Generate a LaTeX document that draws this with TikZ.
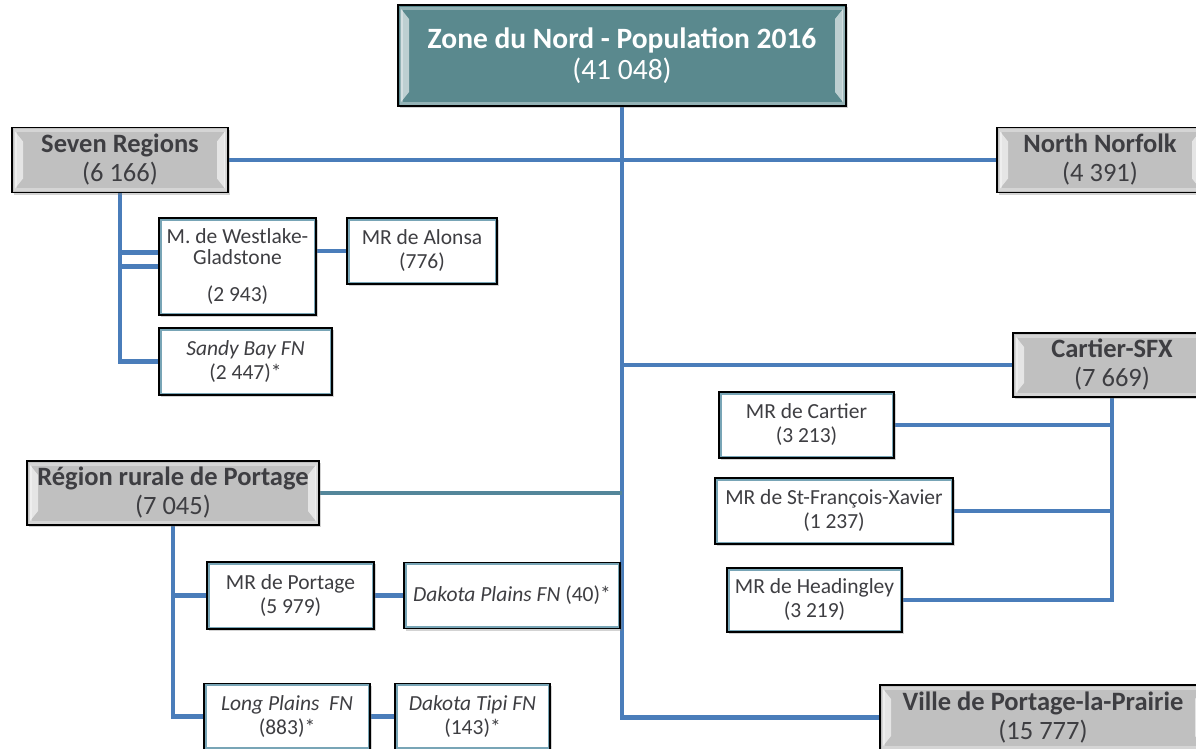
\documentclass[tikz,border=0pt]{standalone}
\usepackage{fontspec}
\setmainfont{Carlito}
\usepackage{tikz}
\usetikzlibrary{shadows,backgrounds}

\definecolor{topteal}{RGB}{90,137,142}
\definecolor{boxgray}{RGB}{192,192,192}
\definecolor{txtgray}{RGB}{62,62,66}
\definecolor{linkblue}{RGB}{74,125,186}
\definecolor{linkteal}{RGB}{84,134,154}
\definecolor{rimteal}{RGB}{120,165,182}

\begin{document}
\begin{tikzpicture}[x=1pt,y=-1pt,
  bevel/.style={path picture={
    \fill[white,opacity=.6] ([shift={(3pt,-4pt)}]path picture bounding box.north west) -- ([shift={(11pt,-14pt)}]path picture bounding box.north west) -- ([shift={(11pt,14pt)}]path picture bounding box.south west) -- ([shift={(3pt,4pt)}]path picture bounding box.south west) -- cycle;
    \fill[white,opacity=.6] ([shift={(-3pt,-4pt)}]path picture bounding box.north east) -- ([shift={(-11pt,-14pt)}]path picture bounding box.north east) -- ([shift={(-11pt,14pt)}]path picture bounding box.south east) -- ([shift={(-3pt,4pt)}]path picture bounding box.south east) -- cycle;
    \draw[white,opacity=.35,line width=3pt] ([shift={(3pt,-3pt)}]path picture bounding box.north west) rectangle ([shift={(-3pt,3pt)}]path picture bounding box.south east);}},
  box/.style={draw=black,line width=1.5pt,inner sep=2pt,align=center,drop shadow={opacity=.35,shadow xshift=2pt,shadow yshift=-2pt}},
  topbox/.style={box,fill=topteal,text=white,bevel,font=\fontsize{29.5}{31}\selectfont},
  greybox/.style={box,fill=boxgray,text=txtgray,bevel,font=\fontsize{26.5}{29}\selectfont},
  leafbox/.style={box,fill=white,text=txtgray,font=\fontsize{21.5}{24}\selectfont,path picture={\draw[rimteal,line width=5pt] (path picture bounding box.north west) rectangle (path picture bounding box.south east);}},
  link/.style={draw=linkblue,line width=4.5pt},
  link2/.style={draw=linkteal,line width=4.5pt}]
  \useasboundingbox (0,0) rectangle (1196,748);
  \clip (0,0) rectangle (1196,748);

  % top level
  \node[topbox,minimum width=448,minimum height=101](zone) at (622,55.5){\textbf{Zone du Nord - Population 2016}\\(41 048)};

  % regions
  \node[greybox,minimum width=216,minimum height=65](seven) at (120,160){\textbf{Seven Regions}\\(6 166)};
  \node[greybox,minimum width=206,minimum height=65](norfolk) at (1100,160){\textbf{North Norfolk}\\(4 391)};
  \node[greybox,minimum width=198,minimum height=64](cartier) at (1112,365){\textbf{Cartier-SFX}\\(7 669)};
  \node[greybox,minimum width=292,minimum height=64](rurale) at (173,493){\textbf{Région rurale de Portage}\\(7 045)};
  \node[greybox,minimum width=326,minimum height=65](ville) at (1043,717.5){\textbf{Ville de Portage-la-Prairie}\\(15 777)};

  % Seven Regions
  \node[leafbox,minimum width=157,minimum height=97,font=\fontsize{21.5}{21}\selectfont](westlake) at (237.5,266.5){M. de Westlake-\\Gladstone\\[16pt](2 943)};
  \node[leafbox,minimum width=150,minimum height=66](alonsa) at (422,251){MR de Alonsa\\(776)};
  \node[leafbox,minimum width=173,minimum height=67](sandy) at (245.5,361.5){\textit{Sandy Bay FN}\\(2 447)*};

  % Cartier-SFX
  \node[leafbox,minimum width=175,minimum height=66](mrcartier) at (806.5,425){MR de Cartier\\(3 213)};
  \node[leafbox,minimum width=238,minimum height=66](sfx) at (834,511){MR de St-François-Xavier\\(1 237)};
  \node[leafbox,minimum width=175,minimum height=64](headingley) at (814.5,600){MR de Headingley\\(3 219)};

  % Portage
  \node[leafbox,minimum width=167,minimum height=67](mrportage) at (290.5,595.5){MR de Portage\\(5 979)};
  \node[leafbox,minimum width=216,minimum height=66](dakplains) at (512,595.5){\textit{Dakota Plains FN} (40)*};
  \node[leafbox,minimum width=166,minimum height=66](longplains) at (287,716.5){\textit{Long Plains~~FN}\\(883)*};
  \node[leafbox,minimum width=155,minimum height=66](daktipi) at (472.5,716.5){\textit{Dakota Tipi FN}\\(143)*};

  \begin{scope}[on background layer]
    \draw[link](zone.south) |- (ville.west);
    \draw[link](seven.east) -- (norfolk.west);
    \draw[link](zone.south |- cartier.west) -- (cartier.west);
    \draw[link2](rurale.east) -- (rurale.east -| zone.south);
    % Seven Regions
    \draw[link](seven.south) |- (sandy.west);
    \draw[link]([yshift=14pt]westlake.west) -- ([yshift=14pt]westlake.west -| seven.south);
    \draw[link](westlake.west) -- (westlake.west -| seven.south);
    \draw[link](westlake.east |- alonsa.west) -- (alonsa.west);
    % Cartier-SFX
    \draw[link](cartier.south) |- (headingley.east);
    \draw[link](mrcartier.east) -- (mrcartier.east -| cartier.south);
    \draw[link](sfx.east) -- (sfx.east -| cartier.south);
    % Portage
    \draw[link](rurale.south) |- (longplains.west);
    \draw[link](mrportage.west) -- (mrportage.west -| rurale.south);
    \draw[link](mrportage.east) -- (dakplains.west);
    \draw[link](longplains.east) -- (daktipi.west);
  \end{scope}
\end{tikzpicture}
\end{document}
